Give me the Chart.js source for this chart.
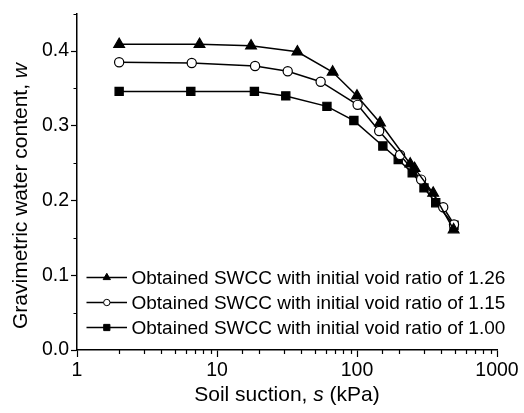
<!DOCTYPE html>
<html>
<head>
<meta charset="utf-8">
<script src="https://cdn.jsdelivr.net/npm/chart.js@4.4.1/dist/chart.umd.min.js"></script>
<style>
  html, body { margin: 0; padding: 0; background: #fff; }
  #wrap { width: 524px; height: 413px; }
</style>
</head>
<body>
<div id="wrap"><canvas id="swcc"></canvas></div>
<script>
// SWCC data (suction in kPa, gravimetric water content)
const labels = ['Obtained SWCC with initial void ratio of 1.26',
                'Obtained SWCC with initial void ratio of 1.15',
                'Obtained SWCC with initial void ratio of 1.00'];

const suction126 = [2, 7.5, 17.5, 37.5, 67, 100, 146, 240, 258, 350, 490];
const water126   = [0.409, 0.409, 0.407, 0.399, 0.372, 0.340, 0.304, 0.249, 0.243, 0.210, 0.161];

const suction115 = [2, 6.6, 18.7, 32, 55, 101, 144, 203, 287, 413, 493];
const water115   = [0.385, 0.384, 0.380, 0.373, 0.359, 0.328, 0.293, 0.261, 0.228, 0.191, 0.168];

const suction100 = [2, 6.5, 18.5, 31, 61, 95, 153, 197, 248, 301, 365, 493];
const water100   = [0.346, 0.346, 0.346, 0.340, 0.326, 0.307, 0.273, 0.255, 0.237, 0.217, 0.197, 0.167];

const xTickLabels = [1, 10, 100, 1000];
const yTickLabels = [0.0, 0.1, 0.2, 0.3, 0.4];

const FONT = "'Liberation Sans', Arial, sans-serif";

function pts(xs, ys) {
    return xs.map((x, i) => ({ x: x, y: ys[i] }));
}

function isMajorY(v) {
    return yTickLabels.some(t => Math.abs(t - v) < 1e-6);
}

// minor ticks, legend and axis titles (titles have italic symbols)
const extras = {
    id: 'extras',
    afterDraw(chart) {
        const ctx = chart.ctx;
        const xs = chart.scales.x, ys = chart.scales.y;
        const area = chart.chartArea;
        ctx.save();
        ctx.strokeStyle = '#000';
        ctx.lineWidth = 1.2;
        ctx.beginPath();
        xs.ticks.forEach(t => {
            if (xTickLabels.includes(t.value)) return;
            const px = Math.round(xs.getPixelForValue(t.value)) + 0.5;
            ctx.moveTo(px, area.bottom);
            ctx.lineTo(px, area.bottom + 4);
        });
        ys.ticks.forEach(t => {
            if (isMajorY(t.value)) return;
            const py = Math.round(ys.getPixelForValue(t.value)) + 0.5;
            ctx.moveTo(area.left, py);
            ctx.lineTo(area.left - 3.5, py);
        });
        ctx.stroke();

        // legend inside the plot, smaller markers than in the plot
        const legendRadius = [4.2, 3.2, 4.4];
        chart.data.datasets.forEach((ds, i) => {
            const y = 277.5 + i * 25;
            ctx.strokeStyle = '#000';
            ctx.lineWidth = 1.5;
            ctx.beginPath();
            ctx.moveTo(86.5, y);
            ctx.lineTo(127, y);
            ctx.stroke();
            ctx.fillStyle = ds.pointBackgroundColor;
            ctx.lineWidth = 1;
            Chart.helpers.drawPoint(ctx, {
                pointStyle: ds.pointStyle, radius: legendRadius[i], rotation: 0, borderWidth: 1
            }, 106.8, y);
            ctx.fillStyle = '#000';
            ctx.font = '19px ' + FONT;
            ctx.textAlign = 'left';
            ctx.textBaseline = 'middle';
            ctx.fillText(ds.label, 131.5, y + 1);
        });

        // x title
        const xParts = [['Soil suction, ', 'normal'], ['s', 'italic'], [' (kPa)', 'normal']];
        drawParts(ctx, xParts, (area.left + area.right) / 2, 401, 0);
        // y title
        const yParts = [['Gravimetric water content, ', 'normal'], ['w', 'italic']];
        drawParts(ctx, yParts, 27, 196, -Math.PI / 2);
        ctx.restore();
    }
};

function drawParts(ctx, parts, cx, cy, rot) {
    ctx.save();
    ctx.translate(cx, cy);
    ctx.rotate(rot);
    ctx.fillStyle = '#000';
    ctx.textBaseline = 'alphabetic';
    ctx.textAlign = 'left';
    let total = 0;
    const widths = parts.map(p => {
        ctx.font = p[1] + ' 21px ' + FONT;
        const w = ctx.measureText(p[0]).width;
        total += w;
        return w;
    });
    let x = -total / 2;
    parts.forEach((p, i) => {
        ctx.font = p[1] + ' 21px ' + FONT;
        ctx.fillText(p[0], x, 0);
        x += widths[i];
    });
    ctx.restore();
}

const styles = [
    { pointStyle: 'triangle', pointRadius: 6.2, fill: '#000' },
    { pointStyle: 'circle', pointRadius: 4.6, fill: '#fff' },
    { pointStyle: 'rect', pointRadius: 5.8, fill: '#000' }
];
const series = [pts(suction126, water126), pts(suction115, water115), pts(suction100, water100)];

const ctx = document.getElementById('swcc').getContext('2d');
const chart = new Chart(ctx, {
    type: 'line',
    data: {
        datasets: series.map((d, i) => ({
            label: labels[i],
            data: d,
            borderColor: '#000',
            borderWidth: 1.5,
            tension: 0,
            pointStyle: styles[i].pointStyle,
            pointRadius: styles[i].pointRadius,
            pointHoverRadius: styles[i].pointRadius,
            pointBackgroundColor: styles[i].fill,
            pointBorderColor: '#000',
            pointBorderWidth: 1.2,
            clip: false
        }))
    },
    options: {
        responsive: true,
        maintainAspectRatio: false,
        animation: false,
        events: [],
        layout: { padding: { left: 0, right: 27, top: 11, bottom: 0 } },
        plugins: { legend: { display: false }, tooltip: { enabled: false } },
        scales: {
            x: {
                type: 'logarithmic',
                min: 1,
                max: 1000,
                afterFit(scale) { scale.height = 63; },
                border: { color: '#000', width: 1.5 },
                grid: {
                    drawOnChartArea: false,
                    tickLength: 7,
                    tickWidth: 1.2,
                    tickColor: c => (c.tick && xTickLabels.includes(c.tick.value)) ? '#000' : 'rgba(0,0,0,0)'
                },
                ticks: {
                    autoSkip: false,
                    maxRotation: 0,
                    padding: 2,
                    color: '#000',
                    font: { family: FONT, size: 19.5 },
                    callback: v => xTickLabels.includes(v) ? String(v) : ''
                }
            },
            y: {
                min: 0,
                max: 0.45,
                afterFit(scale) { scale.width = 77; },
                border: { color: '#000', width: 1.5 },
                grid: {
                    drawOnChartArea: false,
                    tickLength: 6,
                    tickWidth: 1.2,
                    tickColor: c => (c.tick && isMajorY(c.tick.value)) ? '#000' : 'rgba(0,0,0,0)'
                },
                ticks: {
                    stepSize: 0.05,
                    padding: 2,
                    color: '#000',
                    font: { family: FONT, size: 19.5 },
                    callback: v => isMajorY(v) ? v.toFixed(1) : ''
                }
            }
        }
    },
    plugins: [extras]
});
</script>
</body>
</html>
